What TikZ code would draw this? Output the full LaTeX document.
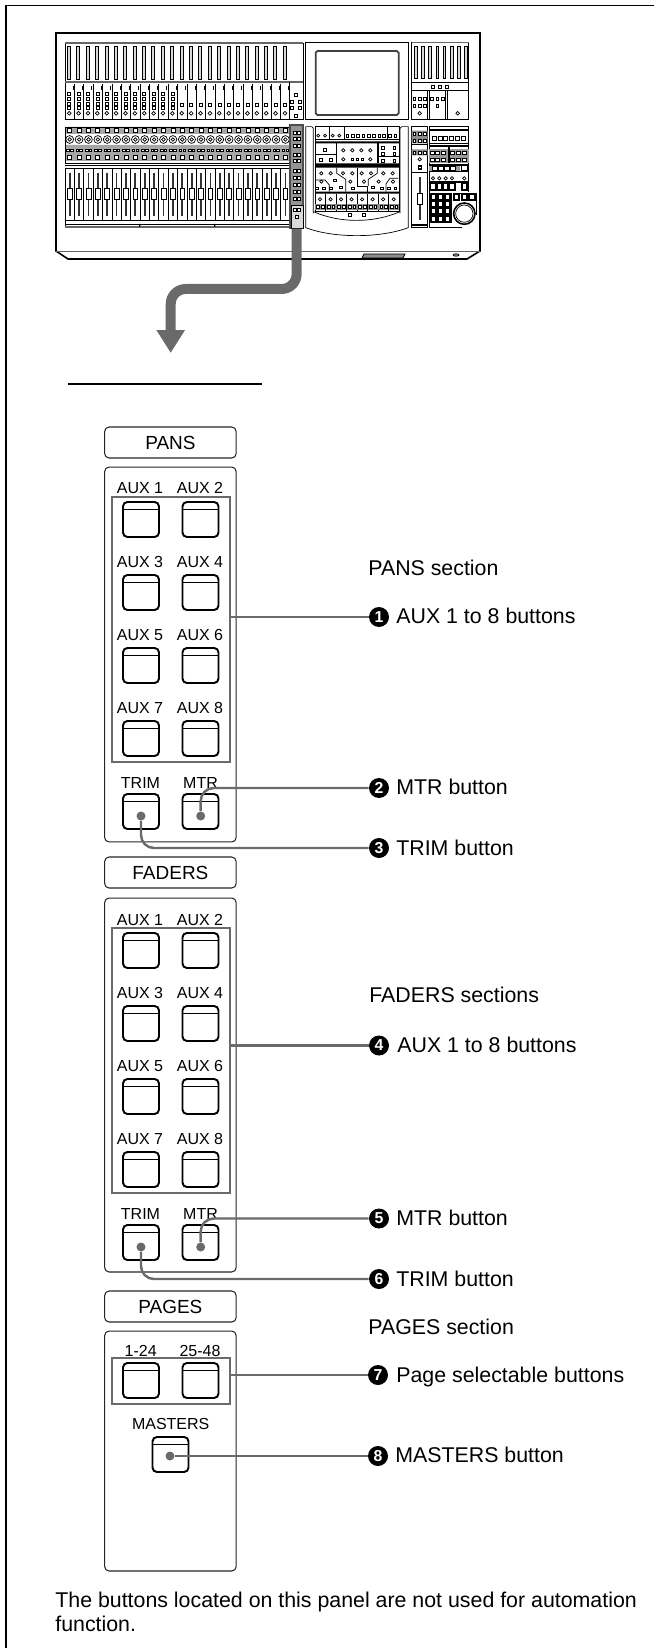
\documentclass[tikz,border=0pt]{standalone}
\usepackage{fontspec}
\setmainfont{Liberation Sans}
\usepackage{xcolor}
\usepackage{tikz}
\usetikzlibrary{arrows.meta}
\definecolor{leadgray}{HTML}{6A6A6A}

\begin{document}
\begin{tikzpicture}[
  x=0.02cm, y=-0.02cm,
  ln/.style={line width=0.4pt},
  fatln/.style={line width=0.9pt},
  panelbox/.style={draw=black!85, rectangle, rounded corners=2.5pt, line width=0.6pt,
              minimum width=2.63cm, inner sep=0pt},
  headbox/.style={panelbox, minimum height=0.62cm, font=\fontsize{10.8}{12}\selectfont},
  btn/.style={draw, rectangle, rounded corners=2.5pt, line width=1.1pt,
              minimum width=0.72cm, minimum height=0.70cm, inner sep=0pt,
              path picture={\draw[line width=0.4pt]
                ([yshift=-0.15cm]path picture bounding box.north west) --
                ([yshift=-0.15cm]path picture bounding box.north east);}},
  selbox/.style={draw=leadgray, rectangle, line width=1.5pt, minimum width=2.36cm, inner sep=0pt},
  btncap/.style={font=\fontsize{9.1}{10}\selectfont, anchor=base, inner sep=0pt},
  txt/.style={font=\fontsize{12.15}{13.7}\selectfont, anchor=base west, inner sep=0pt},
  numdot/.style={circle, fill=black, text=white, minimum size=0.40cm, inner sep=0pt,
              font=\fontsize{9}{9}\selectfont\bfseries},
  leaddot/.style={circle, fill=leadgray, minimum size=0.18cm, inner sep=0pt},
  lead/.style={draw=leadgray, line width=1.4pt, rounded corners=0.26cm},
  bigarr/.style={-{Triangle[width=0.54cm, length=0.46cm]}, draw=leadgray, line width=0.2cm,
              rounded corners=0.3cm}
]
\useasboundingbox (0,0) rectangle (654,1648);

% ── Page frame ──
\draw[line width=0.8pt] (6,1648) -- (6,5.7) -- (654,5.7);

% ── Console outline ──
\draw[fatln] (56,251) -- (56,33) -- (480,33) -- (480,251) -- (467,259) -- (68,259) -- cycle;
\draw[ln, black!60] (56,251) -- (480,251);
\draw[ln, fill=black!45] (364,254) -- (405,254) -- (403,258) -- (362,258) -- cycle;
\draw[ln, fill=black!45] (456,255) ellipse (3 and 1.2);

% ── Meter bridge, left ──
\draw[ln] (65,43) rectangle (303,119);
\draw[ln, black!60, line width=0.7pt] (65,43) -- (303,43) (65,82) -- (303,82);
\draw[ln] (289,82) -- (289,119);
\foreach \i in {0,...,23} {
  \pgfmathsetmacro\cx{65+9.38*\i}
  \draw[ln, fill=black!15] (\cx+2.4,46) rectangle (\cx+5.4,79);
  \draw[ln] (\cx,84) -- (\cx,119);
  \fill (\cx+7.6,86.5) rectangle (\cx+8.6,90);
  \draw[ln] (\cx+4.2,113.3) circle (1.9);
  \ifnum\i<12
    \foreach \sy in {94,99,104,108} \draw[ln] (\cx+2.8,\sy-1.5) rectangle ++(3,3);
  \else
    \draw[ln] (\cx+2.8,103.5) rectangle ++(3,3);
  \fi
}
\foreach \sx/\sy in {296/95,291.5/102,300/102,291.5/108,300/108,296/116}
  \draw[ln] (\sx-1.5,\sy-1.5) rectangle ++(3,3);

% ── Channel strips ──
\fill[black!35] (65,127) rectangle (289,134) (65,145) rectangle (289,161);
\foreach \i in {0,...,23} {
  \pgfmathsetmacro\cx{65+9.38*\i}
  \draw[ln, fill=white] (\cx+2.7,128.5) rectangle ++(4,4);
  \draw[ln] (\cx+4.7,139.5) circle (3.9) (\cx+4.7,139.5) circle (1.8);
  \draw[ln, fill=white] (\cx+1.5,149) rectangle ++(2.6,2.6) (\cx+5.3,149) rectangle ++(2.6,2.6);
  \draw[ln, fill=white] (\cx+2.7,155) rectangle ++(4,4);
  % fader
  \draw[ln] (\cx,168) -- (\cx,220);
  \draw[line width=1pt, black!80] (\cx+4.7,173) -- (\cx+4.7,216);
  \draw[ln, fill=white] (\cx+2.3,188.5) rectangle ++(4.8,11);
}
\draw[ln] (65,127) rectangle (289,163);
\draw[ln] (65,165) -- (289,165) (65,168) -- (289,168) (65,220) -- (289,220) (65,224) -- (289,224);
\draw[ln] (65,168) -- (65,227) (289,168) -- (289,227);
\draw[black!60, line width=0.8pt] (65,227) -- (289,227);
\fill (139,224) rectangle ++(1.3,3) (214,224) rectangle ++(1.3,3);

% ── Selected strip ──
\node[draw=black!70, fill=black!42, line width=0.8pt, minimum width=0.26cm, minimum height=2.06cm,
      inner sep=0pt] (strip) at (296.65,176.5) {};
\foreach \sy in {133,139,146,155,161,171,178,185,192,199,210}
  \draw[ln, fill=white] (293,\sy-1.5) rectangle ++(3,3) (297.5,\sy-1.5) rectangle ++(3,3);
\draw[ln, fill=black!15] (291,205) rectangle (303,228);
\draw[ln, fill=white] (293,208) rectangle ++(3,3) (297.5,208) rectangle ++(3,3) (295,215) rectangle ++(3,3);

% ── Right of the strip, in reference crop units ──
\begin{scope}[shift={(280,0)}, scale=0.3333]
  % display panel
  \draw[ln] (77,128) rectangle (385,358);
  \draw[line width=1pt, black!75, rounded corners=1pt] (107,153) rectangle (356,345);
  % meter bridge, right
  \draw[ln] (395,128) rectangle (566,358);
  \draw[ln, black!60, line width=0.7pt] (395,128) -- (566,128);
  \draw[ln] (395,248) -- (566,248) (395,270) -- (566,270);
  \draw[ln] (443,270) -- (443,358) (448,270) -- (448,358) (497,270) -- (497,358) (501,270) -- (501,358);
  \foreach \i in {0,...,7} \draw[ln, fill=black!15] (403+21.6*\i,138) rectangle ++(8,98);
  \foreach \sx in {459,480,501} \draw[ln] (\sx-4,257) rectangle ++(8,8);
  \foreach \sx/\sy in {403/297,419/297,435/297,403/317,419/317,435/317,456/297,472/297,488/297,472/317}
    \draw[ln] (\sx-4,\sy-4) rectangle ++(8,8);
  \foreach \sx in {419,533} \draw[ln] (\sx,340) circle (5.5);
  % centre section
  \draw[ln] (77,380) -- (95,380) -- (100,385) -- (100,640);
  \draw[ln] (385,380) -- (365,380) -- (360,385) -- (360,640);
  \draw[ln] (77,380) -- (77,683) .. controls (160,715) and (300,715) .. (385,683) -- (385,380);
  \draw[ln] (100,635) .. controls (180,670) and (280,670) .. (360,635);
  \draw[ln] (105,380) rectangle (358,635);
  \fill[black] (105,424) rectangle (358,430) (105,490) rectangle (358,503) (105,575) rectangle (358,581);
  \foreach \sx in {147,192,322} \draw[ln] (\sx,380) -- (\sx,418);
  \draw[line width=0.7pt] (105,418) -- (358,418);
  \foreach \sx in {115,135,158,178} \draw[ln] (\sx,407) circle (4.5);
  \foreach \sx in {202,218,234,250,266,282,298,312,330,346} \draw[ln] (\sx-4,404) rectangle ++(8,8);
  % row b
  \draw[line width=0.7pt] (169,430) -- (169,490) (294,430) -- (294,490);
  \draw[ln] (105,463) -- (169,463) (294,470) -- (358,470);
  \foreach \sx/\sy in {135/450,122/480,152/480,308/443,343/443,308/462,343/462,308/482,343/482,217/478,232/478,247/478}
    \draw[ln] (\sx-4,\sy-4) rectangle ++(8,8);
  \foreach \sx/\sy in {190/451,217/451,244/451,271/451,190/478,271/478}
    \draw[ln] (\sx,\sy) circle (5);
  % row c
  \foreach \sx/\sy in {124/520,152/520,189/520,217/520,245/520,273/520,310/520,338/520,124/545,211/545,252/545,296/545,339/545}
    \draw[ln] (\sx,\sy) circle (5);
  \foreach \sx/\sy in {165/541,111/565,132/565,152/565,183/562,218/565,279/562,305/565,326/565,346/565}
    \draw[ln] (\sx-4,\sy-4) rectangle ++(8,8);
  \draw[ln] (170,503) -- (170,520) -- (197,538) -- (197,575);
  \draw[ln] (233,503) -- (233,558) -- (262,558) -- (262,575);
  \draw[ln] (292,503) -- (292,520) -- (265,538) -- (265,558);
  \draw[ln] (355,535) -- (330,535) -- (318,552) -- (318,575);
  \draw[ln] (105,540) -- (135,540) -- (148,555) -- (148,575);
  % row d
  \foreach \i in {0,...,7} {
    \draw[ln] (105+31.6*\i,581) -- (105+31.6*\i,635);
    \draw[ln] (120+31.6*\i,598) circle (5);
    \fill[black!45] (105+31.6*\i,612) rectangle ++(31.6,19);
    \draw[ln, fill=white] (110+31.6*\i,617) rectangle ++(8,8) (124+31.6*\i,617) rectangle ++(8,8);
  }
  \foreach \sx in {210,252} \draw[ln] (\sx-4,641) rectangle ++(8,8);
  % master fader column
  \draw[ln] (395,380) rectangle (443,683);
  \fill[black!45] (395,392) rectangle (443,430) (395,448) rectangle (443,466);
  \draw[fatln] (395,434) -- (443,434) (395,518) -- (443,518) (395,675) -- (443,675);
  \foreach \sx/\sy in {403/402,419/402,435/402,403/423,419/423,435/423,403/458,419/458,435/458}
    \draw[ln, fill=white] (\sx-4,\sy-4) rectangle ++(8,8);
  \draw[ln] (419,478) circle (5);
  \draw[line width=0.7pt] (415,498) rectangle ++(9,9);
  \draw[line width=1pt, black!80] (419,532) -- (419,660);
  \draw[ln, fill=white] (412,580) rectangle ++(14,33);
  % right-hand controls
  \draw[ln] (448,380) -- (566,380) -- (566,575) (448,380) -- (448,683) -- (545,683);
  \draw[fatln] (448,390) -- (566,390) (448,430) -- (566,430) (448,438) -- (566,438);
  \foreach \i in {0,...,5} \draw[ln] (456+17.6*\i,409) rectangle ++(12,12);
  \fill[black!40] (448,448) rectangle (566,490);
  \draw[fatln] (507,436) -- (507,490);
  \foreach \sx in {457,473,490,517,535,553}
    \foreach \sy in {458,480} \draw[ln, fill=white] (\sx-6,\sy-5) rectangle ++(12,10);
  \draw[fatln] (448,495) -- (566,495) (448,514) -- (566,514);
  \fill[black!40] (448,497) rectangle (540,512);
  \foreach \sx in {465,483,501,519} \draw[ln, fill=white] (\sx-8,499) rectangle ++(16,11);
  \draw[ln, fill=white] (545,497) rectangle ++(18,15);
  \foreach \sx in {459,478,497,516,553} \draw[ln] (\sx,535) circle (5);
  \foreach \sx in {459,478,497,516,553} \draw[line width=1pt, fill=white] (\sx-8,550) rectangle ++(16,20);
  \draw[fatln] (448,546) -- (566,546);
  % keypad
  \draw[fatln] (450,580) rectangle (513,668);
  \foreach \kx in {0,1,2} \foreach \ky in {0,1,2,3}
    \draw[line width=1.1pt] (452+21*\kx,582+21.6*\ky) rectangle ++(16,18);
  % jog dial
  \draw[fatln] (520,580) -- (590,580) -- (590,645);
  \foreach \sx in {529,553,576} \draw[line width=1pt, fill=white] (\sx-8,583) rectangle ++(16,18);
  \draw[fatln] (553,641) circle (32);
  \draw[ln] (553,641) circle (26);
\end{scope}

% ── Big arrow ──
\coordinate (bendr) at (296.65,289);
\coordinate (bendl) at (170.7,289);
\coordinate (arrtip) at (170.7,353);
\draw[bigarr] (strip.south) -- (bendr) -- (bendl) -- (arrtip);
\coordinate (rulea) at (68,384);
\coordinate (ruleb) at (262,384);
\draw[line width=0.8pt] (rulea) -- (ruleb);

% ── PANS section ──
\node[headbox] (panshead) at (170.4,442.5) {PANS};
\node[panelbox, minimum height=7.5cm] (panspanel) at (170.4,654.5) {};
\node[selbox, minimum height=5.3cm] (panssel) at (171,629.5) {};
\foreach \row/\btny/\capy/\la/\lb/\na/\nb in {1/519.5/494/AUX 1/AUX 2/pa/pb, 2/592.5/567/AUX 3/AUX 4/pc/pd,
    3/665.5/640/AUX 5/AUX 6/pe/pf, 4/738.5/713/AUX 7/AUX 8/pg/ph} {
  \node[btncap] (\na cap) at (140,\capy) {\la};
  \node[btncap] (\nb cap) at (200,\capy) {\lb};
  \node[btn] (\na) at (141,\btny) {};
  \node[btn] (\nb) at (200.5,\btny) {};
}
\node[btncap] (ptrimcap) at (140.5,788) {TRIM};
\node[btncap] (pmtrcap) at (200.5,788) {MTR};
\node[btn] (ptrim) at (141,811.5) {};
\node[btn] (pmtr) at (200.5,811.5) {};
\node[leaddot] (ptrimdot) at (141,816) {};
\node[leaddot] (pmtrdot) at (200.7,816) {};

\node[txt] (panstitle) at (368,575.5) {PANS section};
\node[numdot] (num1) at (379,617) {1};
\node[numdot] (num2) at (379,788) {2};
\node[numdot] (num3) at (379,848) {3};
\node[txt] (lab1) at (396,623) {AUX 1 to 8 buttons};
\node[txt] (lab2) at (396,794) {MTR button};
\node[txt] (lab3) at (396,855) {TRIM button};
\draw[lead] (num1 -| panssel.east) -- (num1);
\draw[lead] (pmtrdot) |- (num2);
\draw[lead] (ptrimdot) |- (num3);

% ── FADERS section ──
\node[headbox] (fadhead) at (170.4,872.5) {FADERS};
\node[panelbox, minimum height=7.48cm] (fadpanel) at (170.4,1085) {};
\node[selbox, minimum height=5.3cm] (fadsel) at (171,1060.5) {};
\foreach \row/\btny/\capy/\la/\lb/\na/\nb in {1/950.5/925/AUX 1/AUX 2/fa/fb, 2/1023.5/998/AUX 3/AUX 4/fc/fd,
    3/1096.5/1071/AUX 5/AUX 6/fe/ff, 4/1169.5/1144/AUX 7/AUX 8/fg/fh} {
  \node[btncap] (\na cap) at (140,\capy) {\la};
  \node[btncap] (\nb cap) at (200,\capy) {\lb};
  \node[btn] (\na) at (141,\btny) {};
  \node[btn] (\nb) at (200.5,\btny) {};
}
\node[btncap] (ftrimcap) at (140.5,1219) {TRIM};
\node[btncap] (fmtrcap) at (200.5,1219) {MTR};
\node[btn] (ftrim) at (141,1242.5) {};
\node[btn] (fmtr) at (200.5,1242.5) {};
\node[leaddot] (ftrimdot) at (141,1247) {};
\node[leaddot] (fmtrdot) at (200.7,1247) {};

\node[txt] (fadtitle) at (369,1002) {FADERS sections};
\node[numdot] (num4) at (379,1045.5) {4};
\node[numdot] (num5) at (379,1218.5) {5};
\node[numdot] (num6) at (379,1279) {6};
\node[txt] (lab4) at (397,1052) {AUX 1 to 8 buttons};
\node[txt] (lab5) at (396,1225) {MTR button};
\node[txt] (lab6) at (396,1286) {TRIM button};
\draw[lead] (num4 -| fadsel.east) -- (num4);
\draw[lead] (fmtrdot) |- (num5);
\draw[lead] (ftrimdot) |- (num6);

% ── PAGES section ──
\node[headbox] (pagehead) at (170.4,1306.5) {PAGES};
\node[panelbox, minimum height=4.8cm] (pagepanel) at (170.4,1451) {};
\node[selbox, minimum height=0.92cm] (pagesel) at (171,1381) {};
\node[btncap] (pgacap) at (140.7,1356) {1-24};
\node[btncap] (pgbcap) at (200,1356) {25-48};
\node[btn] (pga) at (141,1380.5) {};
\node[btn] (pgb) at (200.5,1380.5) {};
\node[btncap] (mastcap) at (170.7,1429) {MASTERS};
\node[btn] (mast) at (170.5,1454.5) {};
\node[leaddot] (mastdot) at (170,1456) {};

\node[txt] (pagetitle) at (368,1334) {PAGES section};
\node[numdot] (num7) at (378,1375) {7};
\node[numdot] (num8) at (378,1456) {8};
\node[txt] (lab7) at (396,1382) {Page selectable buttons};
\node[txt] (lab8) at (395,1462) {MASTERS button};
\draw[lead] (num7 -| pagesel.east) -- (num7);
\draw[lead] (mastdot) -- (num8);

% ── Note ──
\node[txt, align=left, anchor=north west] (note) at (55,1592)
     {The buttons located on this panel are not used for automation\\function.};

\end{tikzpicture}
\end{document}
